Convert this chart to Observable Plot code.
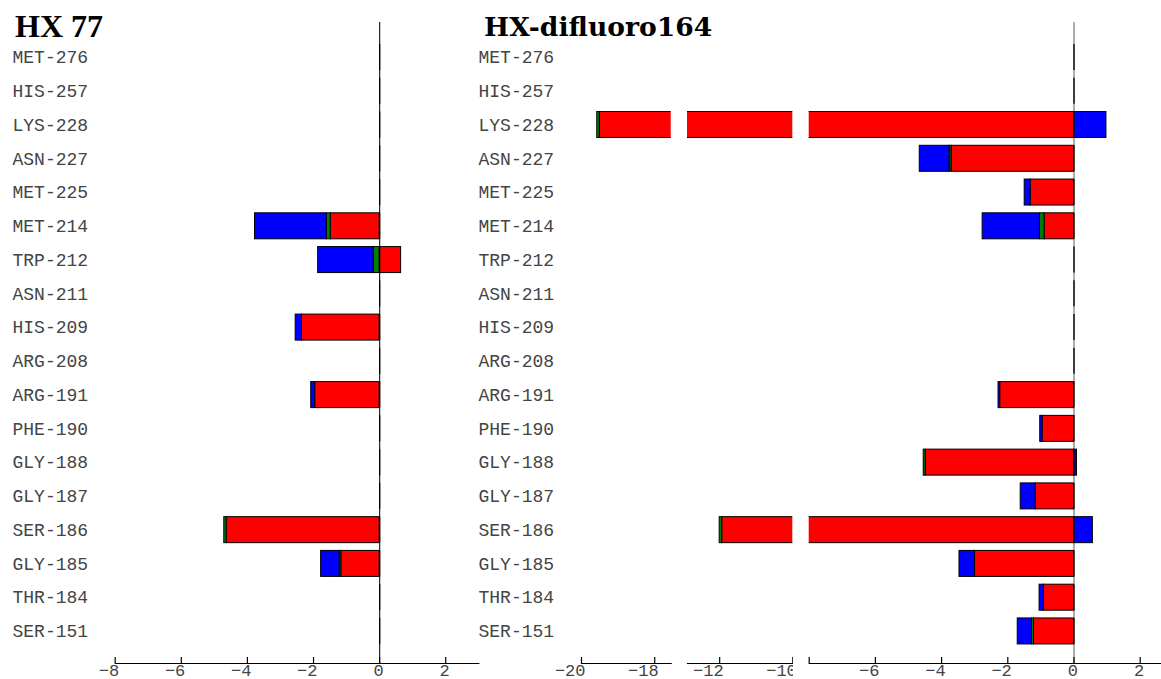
<!DOCTYPE html>
<html><head><meta charset="utf-8">
<script src="https://cdn.jsdelivr.net/npm/d3@7"></script>
<script src="https://cdn.jsdelivr.net/npm/@observablehq/plot@0.6"></script>
<style>
body{margin:0;overflow:hidden;background:#fff;}
#wrap{position:relative;width:1161px;height:679px;overflow:hidden;}
#wrap svg{position:absolute;left:0;top:0;}
.title{position:absolute;font-weight:bold;color:#000;white-space:nowrap;line-height:1;}
</style></head><body>
<div id="wrap">
<div class="title" style="left:15px;top:10px;font-family:'Liberation Serif';font-size:32px;">HX 77</div>
<div class="title" style="left:484px;top:14px;font-family:'DejaVu Serif';font-size:26.6px;">HX-difluoro164</div>
</div>
<script>
const residues = ["MET-276","HIS-257","LYS-228","ASN-227","MET-225","MET-214","TRP-212","ASN-211","HIS-209","ARG-208","ARG-191","PHE-190","GLY-188","GLY-187","SER-186","GLY-185","THR-184","SER-151"];
const components = ["red","green","blue"];
const compColors = ["#ff0000","#00ff00","#0000ff"];

const hx77Red   = [0,0,0,0,0,-1.48,0.65,0,-2.35,0,-1.95,0,0,0,-4.63,-1.16,0,0];
const hx77Green = [0,0,0,0,0,-0.12,-0.18,0,0,0,0,0,0,0,-0.07,-0.05,0,0];
const hx77Blue  = [0,0,0,0,0,-2.17,-1.68,0,-0.19,0,-0.12,0,0,0,0,-0.56,0,0];

const dfRed   = [0,0,-19.5,-3.70,-1.31,-0.89,0,0,0,0,-2.23,-0.95,-4.48,-1.16,-11.93,-2.99,-0.91,-1.21];
const dfGreen = [0,0,-0.07,-0.06,0,-0.14,0,0,0,0,0,0,-0.06,0,-0.07,0,0,-0.06];
const dfBlue  = [0,0,0.98,-0.90,-0.18,-1.73,0,0,0,0,-0.05,-0.07,0.09,-0.45,0.57,-0.47,-0.13,-0.43];

const leftTicks = [-8,-6,-4,-2,0,2];
const seg1Ticks = [-20,-18];
const seg2Ticks = [-12,-10];
const seg3Ticks = [-8,-6,-4,-2,0,2];
const seg3Labels = [-6,-4,-2,0,2];

function longData(series) {
  const out = [];
  series.forEach((vals, ci) => vals.forEach((v, i) => out.push({res: residues[i], comp: components[ci], value: v})));
  return out;
}
const hx77 = longData([hx77Red, hx77Green, hx77Blue]);
const df = longData([dfRed, dfGreen, dfBlue]);

const H = 679, MT = 22, MB = 16;
const FONT = "Liberation Mono";

function panel({data, domain, range, width, ticks, labels, yLabels, zero, zeroColor}) {
  const marks = [];
  if (zero) marks.push(Plot.ruleX([0], {stroke: zeroColor, strokeWidth: 1.2}));
  marks.push(Plot.barX(data, Plot.stackX({y: "res", x: "value", fill: "comp", stroke: "#000", strokeWidth: 1, clip: true})));
  if (zero) marks.push(Plot.tickX(residues, {x: () => 0, y: d => d, stroke: "#000", strokeWidth: 1.3}));
  marks.push(Plot.frame({anchor: "bottom", stroke: "#000", strokeWidth: 1.2}));
  marks.push(Plot.ruleX(ticks, {x: d => d, stroke: "#000", strokeWidth: 1.2, insetTop: (H - MT - MB) - 6}));
  marks.push(Plot.axisX(labels, {anchor: "bottom", tickSize: 0, tickPadding: 1, dy: -1, dx: 4, textAnchor: "end", fontSize: 17, fontFamily: FONT, fill: "#444", label: null}));
  if (yLabels != null) marks.push(Plot.axisY({anchor: "left", tickSize: 0, tickPadding: yLabels, textAnchor: "start", fontSize: 18, fontFamily: FONT, fill: "#444", label: null}));
  return Plot.plot({
    width, height: H,
    marginTop: MT, marginBottom: MB,
    marginLeft: range[0], marginRight: Math.max(0, width - range[1]),
    x: {domain, range},
    y: {domain: residues, range: [36.24, 651.7], padding: 0.23, round: false, axis: null},
    color: {domain: components, range: compColors},
    style: {background: "transparent", overflow: "hidden"},
    marks
  });
}

const wrap = document.getElementById("wrap");
wrap.append(panel({data: hx77, domain: [-8, 3], range: [114.7, 478.3], width: 480, ticks: leftTicks, labels: leftTicks, yLabels: 114.7 - 12, zero: true, zeroColor: "#222"}));
wrap.append(panel({data: df, domain: [-20, -17.55], range: [581, 670.7], width: 1161, ticks: seg1Ticks, labels: seg1Ticks, yLabels: 581 - 478, zero: false}));
wrap.append(panel({data: df, domain: [-12.88, -10], range: [687, 792.3], width: 793, ticks: seg2Ticks, labels: seg2Ticks, yLabels: null, zero: false}));
wrap.append(panel({data: df, domain: [-8, 3], range: [808.7, 1172.8], width: 1161, ticks: seg3Ticks, labels: seg3Labels, yLabels: null, zero: true, zeroColor: "#777"}));
</script>
</body></html>
